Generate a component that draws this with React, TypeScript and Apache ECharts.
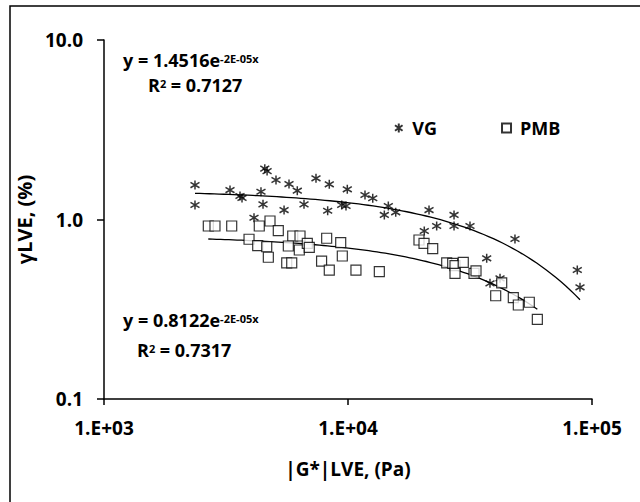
import React, { useEffect, useRef } from "react";
import * as echarts from "echarts";

// VG data: [|G*| (Pa), gamma LVE (%)]
const vgX = [2360, 2360, 3284, 3609, 3678, 4399, 4484, 4560, 4660, 5069, 5470, 5731, 6197, 6602, 7393, 8381, 8255, 9423, 9813, 9934, 4119, 11740, 12630, 14630, 14090, 15690, 21480, 20540, 23090, 27200, 27200, 31620, 48340, 37020, 41980, 38190, 87040, 89290];
const vgY = [1.556, 1.204, 1.459, 1.352, 1.318, 1.428, 1.215, 1.92, 1.86, 1.66, 1.129, 1.576, 1.447, 1.215, 1.696, 1.571, 1.119, 1.204, 1.189, 1.473, 1.023, 1.369, 1.313, 1.189, 1.06, 1.097, 1.129, 0.863, 0.92, 1.06, 0.92, 0.92, 0.779, 0.608, 0.47, 0.441, 0.523, 0.419];

// PMB data
const pmbX = [2676, 2850, 3337, 4329, 4790, 5180, 3930, 4265, 4644, 4715, 5609, 5880, 5935, 6358, 5694, 6316, 6811, 6940, 8177, 7794, 8381, 9335, 9477, 10780, 13440, 19540, 20490, 22240, 25380, 26860, 27450, 27450, 29680, 32840, 33470, 42650, 40300, 47590, 49890, 55340, 59700];
const pmbY = [0.92, 0.92, 0.92, 0.92, 0.981, 0.866, 0.776, 0.715, 0.705, 0.616, 0.574, 0.574, 0.809, 0.809, 0.712, 0.676, 0.737, 0.7, 0.786, 0.587, 0.523, 0.743, 0.626, 0.523, 0.512, 0.769, 0.737, 0.688, 0.574, 0.57, 0.553, 0.501, 0.577, 0.501, 0.518, 0.444, 0.376, 0.367, 0.334, 0.346, 0.278];

// Exponential trendlines y = a * exp(-k x) (k displayed rounded as 2E-05)
const vgFit = { a: 1.4516, k: 1.57e-5 };
const pmbFit = { a: 0.8122, k: 1.58e-5 };

const xTicks = ["1.E+03", "1.E+04", "1.E+05"];
const FONT = "'Open Sans', 'Liberation Sans', sans-serif";

function trend(fit: { a: number; k: number }, xs: number[]) {
  const lo = Math.log10(Math.min(...xs));
  const hi = Math.log10(Math.max(...xs));
  const pts: number[][] = [];
  const n = 80;
  for (let i = 0; i <= n; i++) {
    const x = Math.pow(10, lo + ((hi - lo) * i) / n);
    pts.push([x, fit.a * Math.exp(-fit.k * x)]);
  }
  return pts;
}

const STAR = "path://M5,0L5,10M0.8,2L9.2,8M0.8,8L9.2,2";

export default function App() {
  const ref = useRef<HTMLDivElement>(null);
  useEffect(() => {
    const chart = echarts.init(ref.current!, null, { renderer: "svg" });
    const eqRich = {
      b: { fontSize: 18, fontWeight: "bold", fontFamily: FONT, color: "#000", verticalAlign: "bottom", lineHeight: 16 },
      s: { fontSize: 11, fontWeight: "bold", fontFamily: FONT, color: "#000", verticalAlign: "top", lineHeight: 16 },
    };
    chart.setOption({
      animation: false,
      backgroundColor: "#fff",
      grid: { left: 104, top: 40, right: 48, bottom: 103 },
      legend: {
        left: 389,
        top: 114,
        itemGap: 64,
        itemWidth: 9,
        itemHeight: 9,
        textStyle: { fontSize: 18, fontWeight: "bold", fontFamily: FONT, color: "#000", padding: [0, 0, 0, 4] },
        data: ["VG", "PMB"],
      },
      xAxis: {
        type: "log",
        logBase: 10,
        min: 1000,
        max: 100000,
        name: "|G*|LVE, (Pa)",
        nameLocation: "middle",
        nameGap: 60,
        nameTextStyle: { fontSize: 19, fontWeight: "bold", fontFamily: FONT, color: "#000" },
        axisLine: { lineStyle: { color: "#000", width: 1.5 } },
        axisTick: { show: true, length: 6, lineStyle: { color: "#000", width: 1.5 } },
        minorTick: { show: false },
        splitLine: { show: false },
        axisLabel: {
          margin: 19,
          fontSize: 19,
          fontWeight: "bold",
          fontFamily: FONT,
          color: "#000",
          formatter: (v: number) => xTicks[Math.round(Math.log10(v)) - 3] ?? "",
        },
      },
      yAxis: {
        type: "log",
        logBase: 10,
        min: 0.1,
        max: 10,
        name: "γLVE, (%)",
        nameLocation: "middle",
        nameGap: 57,
        nameTextStyle: { fontSize: 20, fontWeight: "bold", fontFamily: FONT, color: "#000" },
        axisLine: { lineStyle: { color: "#000", width: 1.5 } },
        axisTick: { show: true, length: 7, lineStyle: { color: "#000", width: 1.5 } },
        minorTick: { show: false },
        splitLine: { show: false },
        axisLabel: {
          margin: 21,
          fontSize: 19,
          fontWeight: "bold",
          fontFamily: FONT,
          color: "#000",
          formatter: (v: number) => v.toFixed(1),
        },
      },
      series: [
        {
          name: "VG",
          type: "scatter",
          symbol: STAR,
          symbolSize: 9,
          itemStyle: { color: "#000", borderColor: "#000", borderWidth: 1.5 },
          data: vgX.map((x, i) => [x, vgY[i]]),
          z: 3,
        },
        {
          name: "PMB",
          type: "scatter",
          symbol: "rect",
          symbolSize: 10,
          itemStyle: { color: "#fff", borderColor: "#000", borderWidth: 1.2 },
          data: pmbX.map((x, i) => [x, pmbY[i]]),
          z: 3,
        },
        {
          name: "VG trend",
          type: "line",
          showSymbol: false,
          symbol: "none",
          lineStyle: { color: "#000", width: 1.3 },
          data: trend(vgFit, vgX),
          z: 2,
        },
        {
          name: "PMB trend",
          type: "line",
          showSymbol: false,
          symbol: "none",
          lineStyle: { color: "#000", width: 1.3 },
          data: trend(pmbFit, pmbX),
          z: 2,
        },
      ],
      graphic: [
        {
          type: "rect",
          shape: { x: 10, y: 6, width: 700, height: 600 },
          style: { fill: "none", stroke: "#000", lineWidth: 1.5 },
          silent: true,
        },
        { type: "text", x: 123, y: 53, style: { text: "{b|y = 1.4516e}{s|-2E-05x}", rich: eqRich } },
        { type: "text", x: 148, y: 78, style: { text: "{b|R}{s|2}{b| = 0.7127}", rich: eqRich } },
        { type: "text", x: 123, y: 313, style: { text: "{b|y = 0.8122e}{s|-2E-05x}", rich: eqRich } },
        { type: "text", x: 137, y: 343, style: { text: "{b|R}{s|2}{b| = 0.7317}", rich: eqRich } },
      ],
    });
    return () => chart.dispose();
  }, []);
  return (
    <div
      ref={ref}
      style={{ position: "fixed", left: 0, top: 0, width: 640, height: 502, background: "#fff" }}
    />
  );
}
